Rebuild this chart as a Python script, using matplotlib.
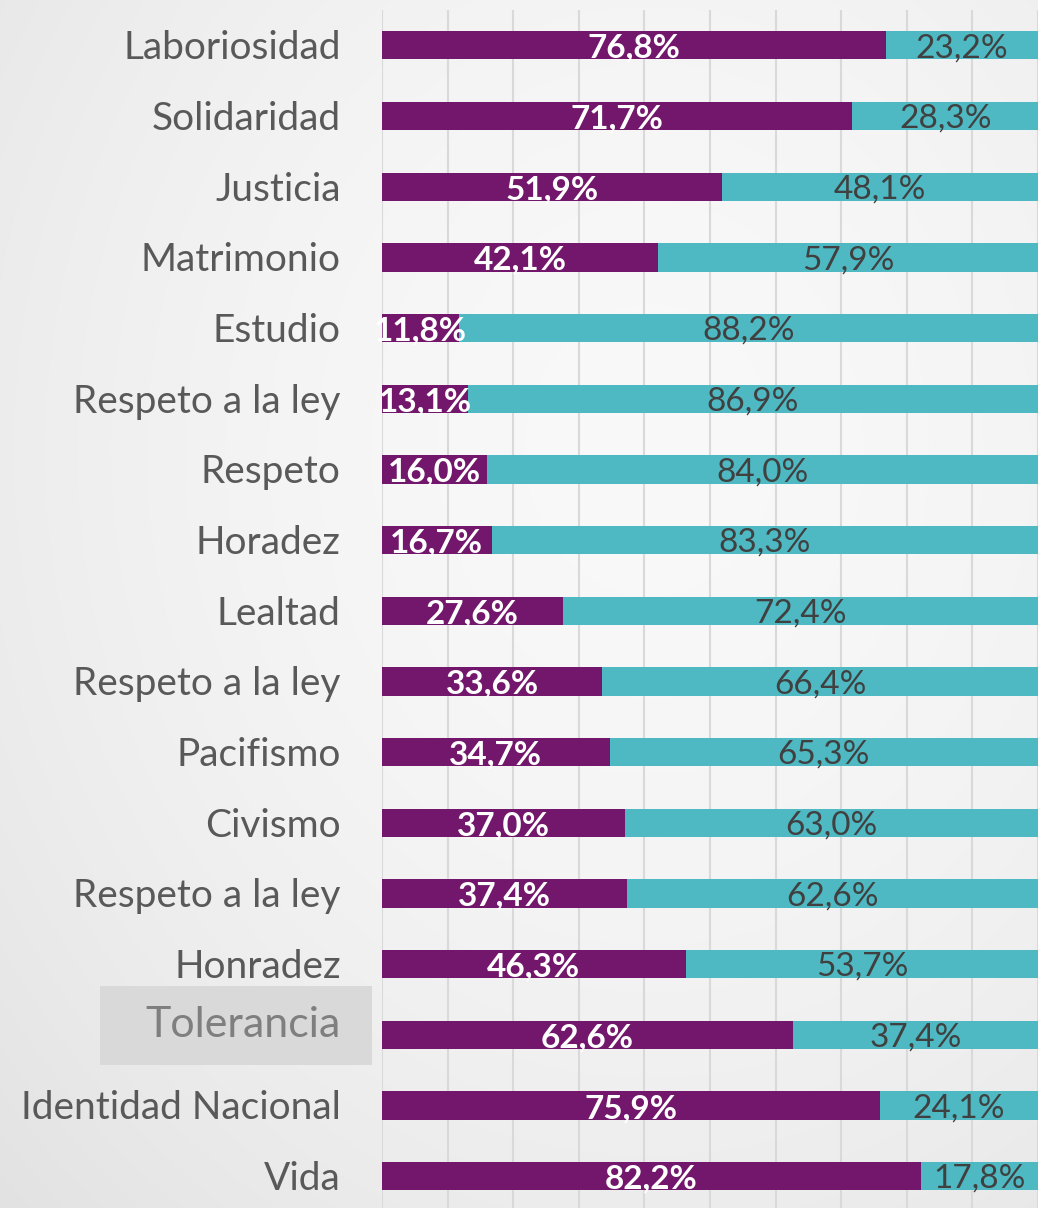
import matplotlib
matplotlib.use('Agg')
import matplotlib.pyplot as plt
from matplotlib.patches import Rectangle
import numpy as np

# Values per category (top to bottom)
categories = ['Laboriosidad', 'Solidaridad', 'Justicia', 'Matrimonio', 'Estudio',
              'Respeto a la ley', 'Respeto', 'Horadez', 'Lealtad', 'Respeto a la ley',
              'Pacifismo', 'Civismo', 'Respeto a la ley', 'Honradez', 'Tolerancia',
              'Identidad Nacional', 'Vida']
share_a = [76.8, 71.7, 51.9, 42.1, 11.8, 13.1, 16.0, 16.7, 27.6, 33.6,
           34.7, 37.0, 37.4, 46.3, 62.6, 75.9, 82.2]
share_b = [23.2, 28.3, 48.1, 57.9, 88.2, 86.9, 84.0, 83.3, 72.4, 66.4,
           65.3, 63.0, 62.6, 53.7, 37.4, 24.1, 17.8]
highlight = 'Tolerancia'

PURPLE = '#72176B'
TEAL = '#4EB9C3'
LABEL_GREY = '#595959'
FONT = ['Lato', 'DejaVu Sans']

W, H = 1038, 1208
fig = plt.figure(figsize=(W / 100, H / 100), dpi=100)

# soft radial background
bg = fig.add_axes([0, 0, 1, 1], zorder=0)
yy, xx = np.mgrid[0:H, 0:W]
r = np.hypot((xx - 650) / W, (yy - 450) / H)
shade = np.clip(0.975 - 0.11 * r ** 1.8, 0.89, 0.975)
bg.imshow(np.dstack([shade] * 3), aspect='auto', extent=[0, 1, 0, 1])
bg.axis('off')

ax = fig.add_axes([382 / W, 0, (1038 - 382) / W, (H - 10) / H], zorder=1)
ax.patch.set_alpha(0)

y = np.arange(len(categories))
a = np.array(share_a)
b = np.array(share_b)
ax.barh(y, a, height=0.4, color=PURPLE, zorder=3)
ax.barh(y, b, left=a, height=0.4, color=TEAL, zorder=3)

for i in range(len(categories)):
    ax.text(a[i] / 2, y[i] + 0.04, f'{a[i]:.1f}%'.replace('.', ','),
            ha='center', va='center', color='white', fontsize=24,
            fontweight='bold', family=FONT, zorder=4)
    ax.text(a[i] + b[i] / 2, y[i] + 0.04, f'{b[i]:.1f}%'.replace('.', ','),
            ha='center', va='center', color='#404040', fontsize=24,
            family=FONT, zorder=4)

ax.set_xlim(0, 100)
ax.set_ylim(16.45, -0.5)
ax.set_xticks(np.arange(0, 101, 10))
ax.xaxis.grid(True, color='#D9D9D9', linewidth=1.5, zorder=0)
ax.tick_params(axis='x', length=0, labelbottom=False)
ax.set_yticks(y)
ax.set_yticklabels([])
ax.tick_params(axis='y', length=0)
for s in ax.spines.values():
    s.set_visible(False)

# category labels
for i, name in enumerate(categories):
    if name == highlight:
        fig.add_artist(Rectangle((100 / W, 1 - 1065 / H), 272 / W, 79 / H,
                                 transform=fig.transFigure, facecolor='#D9D9D9',
                                 edgecolor='none', zorder=1))
        fig.text(341 / W, 1 - 1025 / H, name, ha='right', va='center',
                 fontsize=31, color='#7F7F7F', family=FONT, zorder=2)
    else:
        ax.text(-6.3, y[i] + 0.04, name, ha='right', va='center', fontsize=28,
                color=LABEL_GREY, family=FONT, clip_on=False)

fig.savefig('out.png', dpi=100)
